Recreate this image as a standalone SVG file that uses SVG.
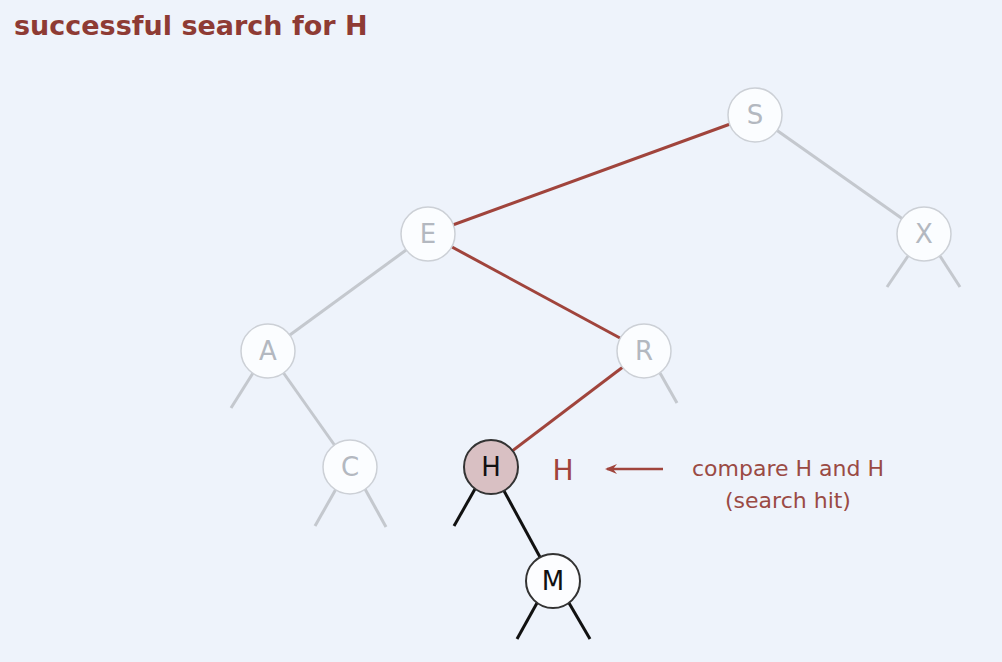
<svg xmlns="http://www.w3.org/2000/svg" width="1002" height="662" viewBox="0 0 1002 662">
  <style>
    .bg { fill: #eef3fb; }
    .title { font-family: "DejaVu Sans", "Liberation Sans", sans-serif; font-weight: bold; font-size: 27px; fill: #8e3b34; }
    .node-faded circle { fill: #fbfdff; stroke: #ccd0d6; stroke-width: 1.5; }
    .node-faded text { fill: #b3b8c0; }
    .node-active circle { stroke: #333; stroke-width: 2; }
    .node-active text { fill: #111; }
    .label { font-family: "DejaVu Sans", "Liberation Sans", sans-serif; font-size: 26px; text-anchor: middle; }
    .edge-gray { stroke: #c4c8ce; stroke-width: 3; fill: none; }
    .edge-red { stroke: #a0443c; stroke-width: 3; fill: none; }
    .edge-black { stroke: #111; stroke-width: 3; fill: none; }
    .note { font-family: "DejaVu Sans", "Liberation Sans", sans-serif; font-size: 22px; fill: #9a4a44; text-anchor: middle; }
  </style>
  <defs>
    <marker id="arrowhead" viewBox="0 0 12 10" refX="10" refY="5" markerWidth="12" markerHeight="10" markerUnits="userSpaceOnUse" orient="auto">
      <path d="M0,0 L12,5 L0,10 L4,5 Z" fill="#a0443c"/>
    </marker>
  </defs>

  <rect class="bg" x="0" y="0" width="1002" height="662"/>
  <text class="title" x="14" y="35">successful search for H</text>

  <g id="connectors">
    <!-- search path -->
    <line class="edge-red" x1="755" y1="115" x2="428" y2="234"/>
    <line class="edge-red" x1="428" y1="234" x2="644" y2="351"/>
    <line class="edge-red" x1="644" y1="351" x2="491" y2="467"/>
    <!-- off-path links -->
    <line class="edge-gray" x1="755" y1="115" x2="924" y2="234"/>
    <line class="edge-gray" x1="428" y1="234" x2="268" y2="351"/>
    <line class="edge-gray" x1="268" y1="351" x2="350" y2="467"/>
    <!-- null links (gray) -->
    <line class="edge-gray" x1="908" y1="256" x2="887" y2="287"/>
    <line class="edge-gray" x1="940" y1="256" x2="960" y2="287"/>
    <line class="edge-gray" x1="253" y1="373" x2="231" y2="408"/>
    <line class="edge-gray" x1="660" y1="373" x2="677" y2="403"/>
    <line class="edge-gray" x1="336" y1="489" x2="315" y2="526"/>
    <line class="edge-gray" x1="365" y1="489" x2="386" y2="527"/>
    <!-- current subtree -->
    <line class="edge-black" x1="491" y1="467" x2="553" y2="581"/>
    <line class="edge-black" x1="475" y1="489" x2="454" y2="526"/>
    <line class="edge-black" x1="537" y1="603" x2="517" y2="639"/>
    <line class="edge-black" x1="569" y1="603" x2="590" y2="639"/>
    <!-- comparison arrow -->
    <line x1="663" y1="469" x2="607" y2="469" stroke="#a0443c" stroke-width="2.5" marker-end="url(#arrowhead)"/>
  </g>

  <g id="node-S" class="node-faded">
    <circle cx="755" cy="115" r="27"/>
    <text class="label" x="755" y="124">S</text>
  </g>
  <g id="node-E" class="node-faded">
    <circle cx="428" cy="234" r="27"/>
    <text class="label" x="428" y="243">E</text>
  </g>
  <g id="node-X" class="node-faded">
    <circle cx="924" cy="234" r="27"/>
    <text class="label" x="924" y="243">X</text>
  </g>
  <g id="node-A" class="node-faded">
    <circle cx="268" cy="351" r="27"/>
    <text class="label" x="268" y="360">A</text>
  </g>
  <g id="node-R" class="node-faded">
    <circle cx="644" cy="351" r="27"/>
    <text class="label" x="644" y="360">R</text>
  </g>
  <g id="node-C" class="node-faded">
    <circle cx="350" cy="467" r="27"/>
    <text class="label" x="350" y="476">C</text>
  </g>
  <g id="node-H" class="node-active">
    <circle cx="491" cy="467" r="27" fill="#d9c0c3"/>
    <text class="label" x="491" y="476">H</text>
  </g>
  <g id="node-M" class="node-active">
    <circle cx="553" cy="581" r="27" fill="#fcfdff"/>
    <text class="label" x="553" y="590">M</text>
  </g>

  <g id="compare-note">
    <text class="label" x="563" y="480" fill="#a0443c" style="font-size:28px">H</text>
    <text class="note" x="788" y="476">compare H and H</text>
    <text class="note" x="788" y="508">(search hit)</text>
  </g>
</svg>
